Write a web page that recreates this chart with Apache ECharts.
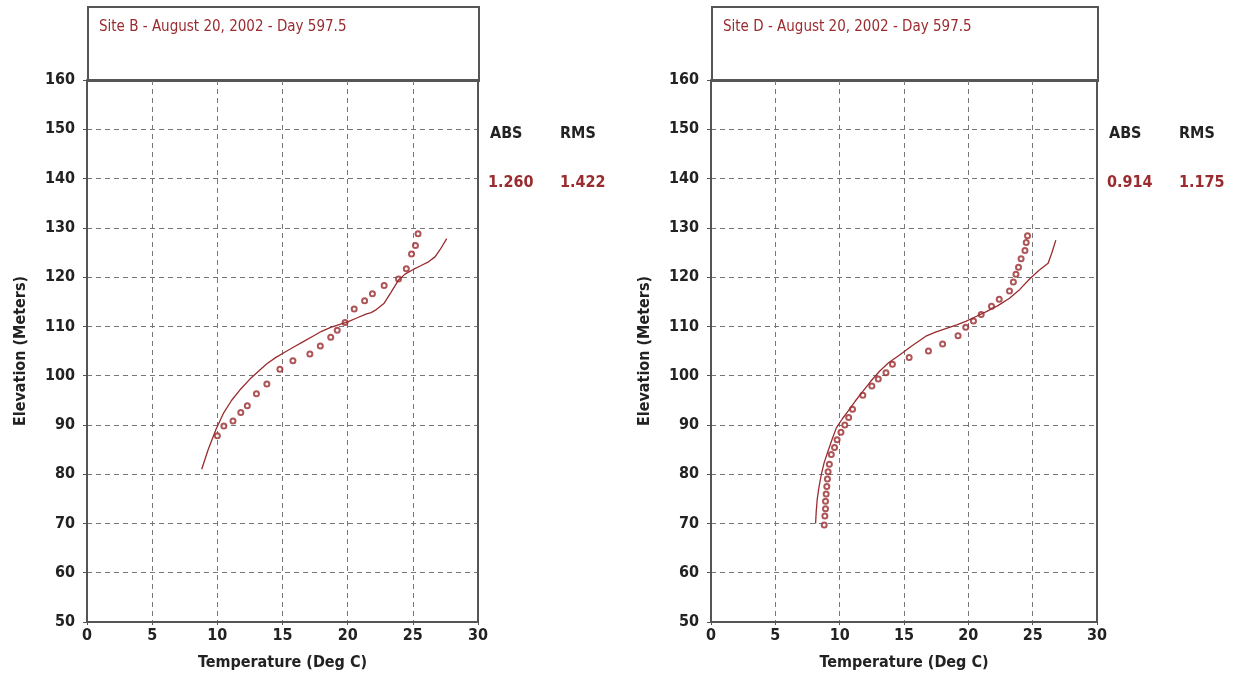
<!DOCTYPE html>
<html><head><meta charset="utf-8">
<script src="https://cdn.jsdelivr.net/npm/echarts@6/dist/echarts.min.js"></script>
<style>html,body{margin:0;padding:0;background:#fff}#c{width:1247px;height:683px}</style>
</head><body><div id="c"></div>
<script>
var titles = ['Site B - August 20, 2002 - Day 597.5', 'Site D - August 20, 2002 - Day 597.5'];
var statHeaders = ['ABS', 'RMS'];
var siteBStats = ['1.260', '1.422'];
var siteDStats = ['0.914', '1.175'];
var xTicks = [0, 5, 10, 15, 20, 25, 30];
var yTicks = [50, 60, 70, 80, 90, 100, 110, 120, 130, 140, 150, 160];

// [temperature, elevation]
var siteBModel = [[8.8,81],[9.3,85],[9.9,89.1],[10.5,92.5],[11.1,95],[11.8,97.3],[12.5,99.3],[13.2,101],[13.8,102.4],[14.5,103.7],[15.2,104.8],[15.8,105.7],[16.6,106.9],[17.4,108.1],[18.0,109],[18.7,109.8],[19.4,110.4],[20,110.9],[20.7,111.7],[21.4,112.5],[21.8,112.8],[22.2,113.4],[22.8,114.7],[23.3,116.8],[23.9,119.4],[24.4,120.6],[25.0,121.5],[25.6,122.3],[26.2,123.1],[26.7,124.1],[27.1,125.6],[27.6,127.8]];
var siteBObs = [[10,87.8],[10.5,89.8],[11.2,90.8],[11.8,92.5],[12.3,93.9],[13,96.3],[13.8,98.3],[14.8,101.3],[15.8,103],[17.1,104.4],[17.9,106],[18.7,107.8],[19.2,109.2],[19.8,110.8],[20.5,113.5],[21.3,115.2],[21.9,116.6],[22.8,118.3],[23.9,119.6],[24.5,121.7],[24.9,124.7],[25.2,126.4],[25.4,128.8]];
var siteDModel = [[8.13,70],[8.18,72.5],[8.26,75],[8.4,77.5],[8.58,80],[8.8,82.4],[9.1,84.7],[9.4,87],[9.74,89.4],[10.2,91.2],[10.65,92.8],[11.2,94.8],[11.8,96.8],[12.4,98.8],[13.1,100.9],[13.8,102.6],[14.66,104.2],[15.6,106],[16.7,108],[17.5,108.9],[18.3,109.6],[19.1,110.3],[19.8,111],[20.6,112],[21.4,113],[22.3,114.2],[23.2,115.7],[24.0,117.5],[24.8,119.7],[25.5,121.4],[26.2,122.8],[26.5,125],[26.8,127.5]];
var siteDObs = [[8.8,69.7],[8.85,71.5],[8.9,73],[8.9,74.5],[8.95,76],[9.0,77.5],[9.05,79],[9.1,80.5],[9.2,82],[9.35,84],[9.6,85.4],[9.8,87],[10.1,88.5],[10.4,90],[10.7,91.5],[11,93.2],[11.8,96],[12.5,97.9],[13,99.3],[13.6,100.6],[14.1,102.3],[15.4,103.7],[16.9,105],[18,106.4],[19.2,108.1],[19.8,109.8],[20.4,111.1],[21,112.4],[21.8,114.1],[22.4,115.5],[23.2,117.2],[23.5,119],[23.7,120.6],[23.9,122],[24.1,123.7],[24.4,125.4],[24.5,127],[24.6,128.4]];

var RED = '#9a2b2e';
var FONT = '"Liberation Sans Narrow", "Arial Narrow", "DejaVu Sans Condensed", sans-serif';

function xAxis(i) {
  return {
    gridIndex: i, type: 'value', min: xTicks[0], max: xTicks[xTicks.length-1], interval: 5,
    name: 'Temperature (Deg C)', nameLocation: 'middle', nameGap: 33,
    nameTextStyle: {fontFamily: FONT, fontWeight: 'bold', fontSize: 16, color: '#222'},
    axisLine: {show: true, onZero: false, lineStyle: {color: '#555', width: 2}},
    axisTick: {show: true, length: 3, lineStyle: {color: '#555'}},
    axisLabel: {fontFamily: FONT, fontWeight: 'bold', fontSize: 16, color: '#222', margin: 6},
    splitLine: {show: true, lineStyle: {color: '#777', type: [5, 4], width: 1}}
  };
}
function yAxis(i) {
  return {
    gridIndex: i, type: 'value', min: yTicks[0], max: yTicks[yTicks.length-1], interval: 10,
    name: 'Elevation (Meters)', nameLocation: 'middle', nameGap: 58, nameRotate: 90,
    nameTextStyle: {fontFamily: FONT, fontWeight: 'bold', fontSize: 16, color: '#222'},
    axisLine: {show: true, onZero: false, lineStyle: {color: '#555', width: 2}},
    axisTick: {show: true, length: 4, lineStyle: {color: '#555'}},
    axisLabel: {fontFamily: FONT, fontWeight: 'bold', fontSize: 16, color: '#222', margin: 12},
    splitLine: {show: true, lineStyle: {color: '#777', type: [5, 4], width: 1}}
  };
}
function headerGraphics(left, width, title, stats) {
  return [
    {type: 'rect', left: left, top: 6, shape: {width: width, height: 74}, style: {fill: '#fff', stroke: '#555', lineWidth: 2}},
    {type: 'text', left: left + 12, top: 20, style: {text: title, fill: RED, font: '15px ' + FONT}},
    {type: 'text', left: left + width + 12, top: 126, style: {text: statHeaders[0], fill: '#222', font: 'bold 16px ' + FONT}},
    {type: 'text', left: left + width + 82, top: 126, style: {text: statHeaders[1], fill: '#222', font: 'bold 16px ' + FONT}},
    {type: 'text', left: left + width + 10, top: 175, style: {text: stats[0], fill: RED, font: 'bold 16px ' + FONT}},
    {type: 'text', left: left + width + 82, top: 175, style: {text: stats[1], fill: RED, font: 'bold 16px ' + FONT}},
    {type: 'rect', left: left + width - 1, top: 80, z: 10, shape: {width: 2, height: 542}, style: {fill: '#555'}},
    {type: 'rect', left: left, top: 79, z: 10, shape: {width: width, height: 2}, style: {fill: '#555'}}
  ];
}

var chart = echarts.init(document.getElementById('c'));
chart.setOption({
  backgroundColor: '#fff',
  animation: false,
  grid: [
    {left: 87, top: 80, width: 391, height: 542},
    {left: 711, top: 80, width: 386, height: 542}
  ],
  xAxis: [xAxis(0), xAxis(1)],
  yAxis: [yAxis(0), yAxis(1)],
  graphic: headerGraphics(87, 391, titles[0], siteBStats).concat(headerGraphics(711, 386, titles[1], siteDStats)),
  series: [
    {type: 'line', xAxisIndex: 0, yAxisIndex: 0, data: siteBModel, smooth: false, showSymbol: false, lineStyle: {color: RED, width: 1.3}},
    {type: 'scatter', xAxisIndex: 0, yAxisIndex: 0, data: siteBObs, symbol: 'emptyCircle', symbolSize: 5, itemStyle: {color: RED, borderColor: RED, borderWidth: 1}},
    {type: 'line', xAxisIndex: 1, yAxisIndex: 1, data: siteDModel, smooth: false, showSymbol: false, lineStyle: {color: RED, width: 1.3}},
    {type: 'scatter', xAxisIndex: 1, yAxisIndex: 1, data: siteDObs, symbol: 'emptyCircle', symbolSize: 5, itemStyle: {color: RED, borderColor: RED, borderWidth: 1}}
  ]
});
</script></body></html>
